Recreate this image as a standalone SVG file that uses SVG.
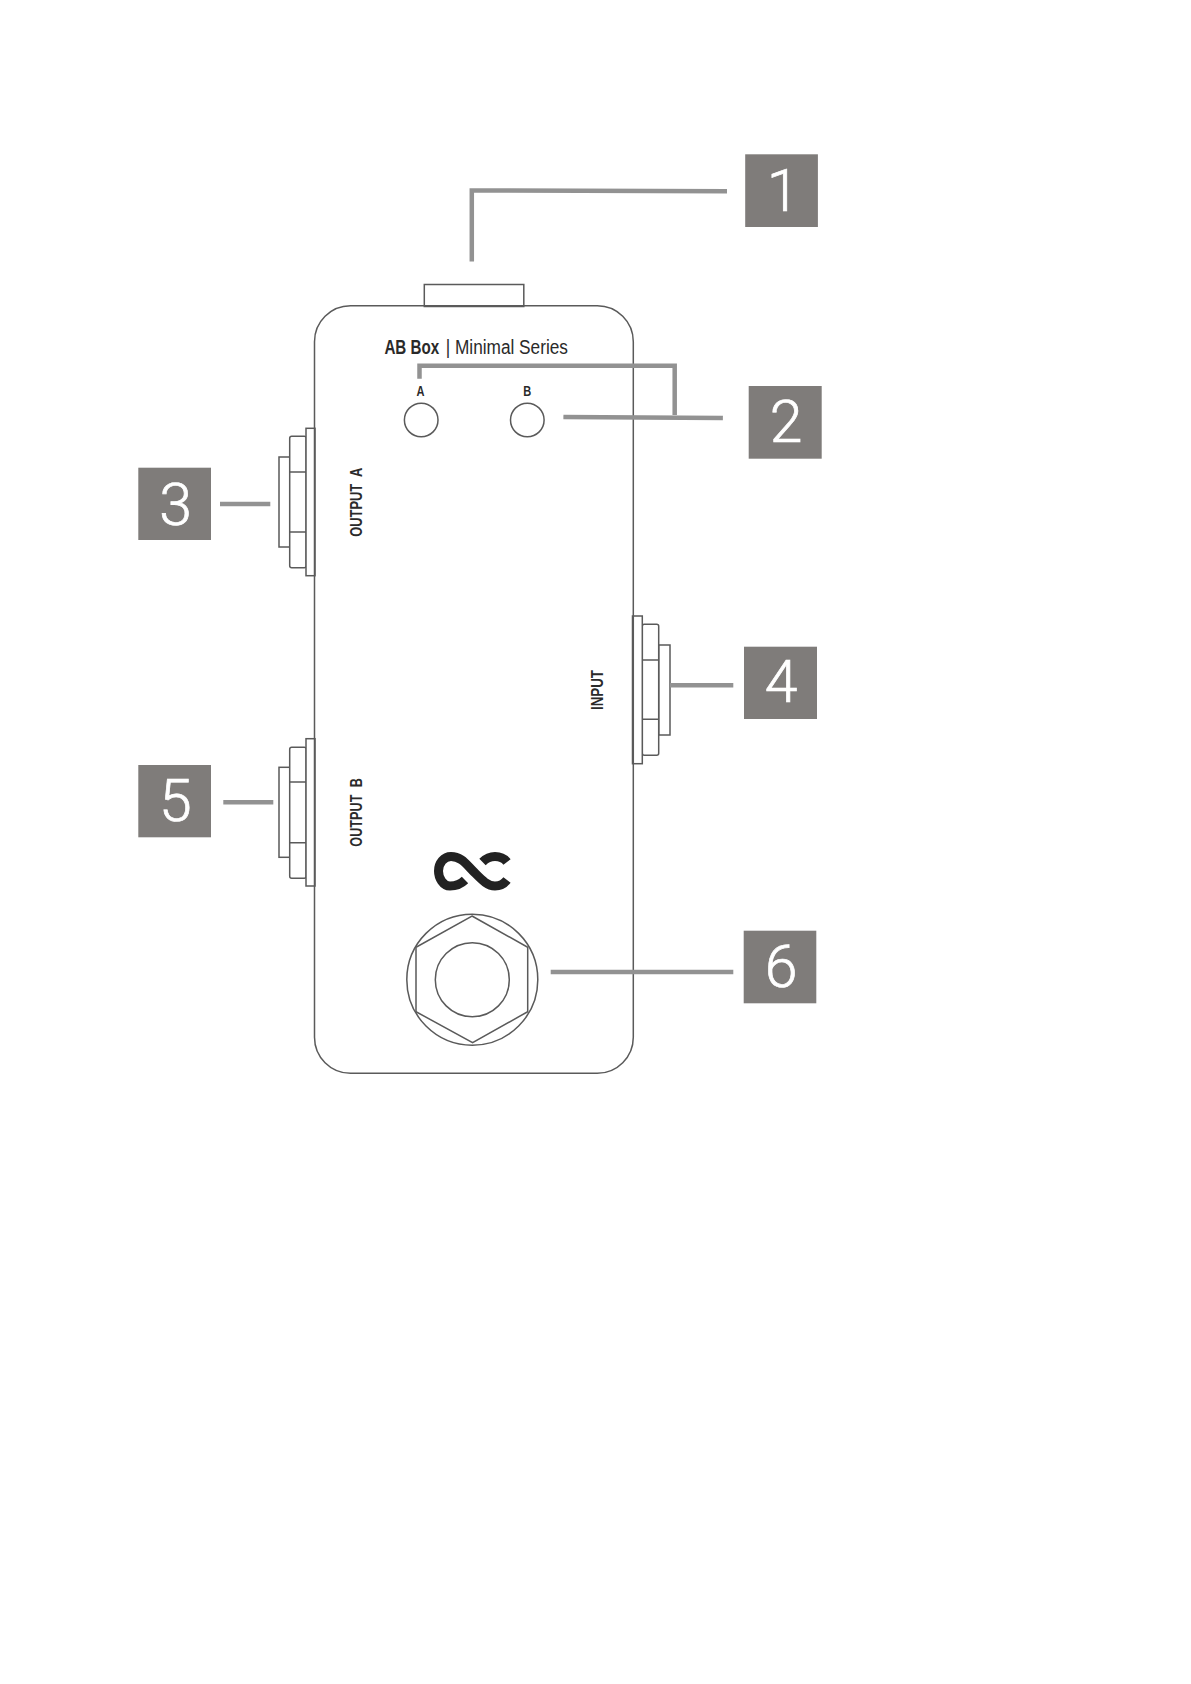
<svg xmlns="http://www.w3.org/2000/svg" width="1191" height="1684" viewBox="0 0 1191 1684">
<style>
.o{fill:#fff;stroke:#5a5a5a;stroke-width:1.5}
.k{fill:none;stroke:#5a5a5a;stroke-width:1.5}
.c{fill:none;stroke:#929292;stroke-width:4.5}
.b{fill:#7f7c7a}
.n{fill:#fff;stroke:#fff;stroke-width:.7;font-family:Roboto,"Liberation Sans",sans-serif;font-weight:300;font-size:59px;text-anchor:middle}
.t{fill:#2a2a2a;font-family:"Liberation Sans",Arial,sans-serif;font-weight:700}
.r{font-weight:400}
</style>
<rect width="1191" height="1684" fill="#fff"/>
<g id="switch"><rect class="o" x="424.3" y="284.5" width="99.5" height="22"/></g>
<g id="jack-output-a">
<rect class="o" x="279" y="457" width="11" height="90"/>
<rect class="o" x="289.7" y="436.3" width="16.5" height="131.4" rx="2"/>
<path class="k" d="M289.7 472H306M289.7 532H306"/>
<rect class="o" x="306" y="428.3" width="9" height="147.4"/>
</g>
<g id="jack-output-b">
<rect class="o" x="279" y="767.3" width="11" height="90"/>
<rect class="o" x="289.7" y="747.3" width="16.5" height="131" rx="2"/>
<path class="k" d="M289.7 782H306M289.7 842.7H306"/>
<rect class="o" x="306" y="738.7" width="9" height="147.3"/>
</g>
<g id="jack-input">
<rect class="o" x="658.7" y="645" width="11.3" height="90"/>
<rect class="o" x="642.3" y="624.3" width="16.4" height="131" rx="2"/>
<path class="k" d="M642.3 660H658.7M642.3 719.3H658.7"/>
<rect class="o" x="632.5" y="616" width="9.8" height="147.7"/>
</g>
<g id="body"><rect class="k" x="314.5" y="305.8" width="318.8" height="767.5" rx="36"/></g>
<g id="title"><text class="t" transform="translate(384.4 354.3) scale(.76 1)" font-size="20">AB Box</text><text class="t r" transform="translate(445.7 354.3) scale(.862 1)" font-size="20">| Minimal Series</text></g>
<g id="led-a"><circle class="k" cx="421.2" cy="420" r="16.8"/><text class="t" x="416.4" y="396" font-size="15" textLength="8" lengthAdjust="spacingAndGlyphs">A</text></g>
<g id="led-b"><circle class="k" cx="527.3" cy="420" r="16.8"/><text class="t" x="523.3" y="396" font-size="15" textLength="8" lengthAdjust="spacingAndGlyphs">B</text></g>
<g id="label-output-a"><text class="t" transform="translate(361.7 536.7) rotate(-90)" font-size="17" word-spacing="5" textLength="69" lengthAdjust="spacingAndGlyphs">OUTPUT A</text></g>
<g id="label-output-b"><text class="t" transform="translate(361.7 846.7) rotate(-90)" font-size="17" word-spacing="5" textLength="68.5" lengthAdjust="spacingAndGlyphs">OUTPUT B</text></g>
<g id="label-input"><text class="t" transform="translate(603 710) rotate(-90)" font-size="17" textLength="40" lengthAdjust="spacingAndGlyphs">INPUT</text></g>
<g id="logo" fill="none" stroke="#222" stroke-width="9">
<path d="M465 880C460 885 455 886 450 886C443 886 438.5 878 438.5 871C438.5 863 444 856.5 451 856.5C461 856.5 466 864 473 871C481 879 487 886 495 886C500 886 504 884 507 880"/>
<path d="M507 862C504 858 500 856.5 495 856.5C490 856.5 486 858.500 482.500 862"/>
</g>
<g id="footswitch">
<circle class="k" cx="472.3" cy="979.7" r="65.5"/>
<path class="k" d="M472 916L527.7 947.3V1011.7L472.6 1042.7L416 1011.7V947.3Z"/>
<circle class="k" cx="472.3" cy="979.7" r="37"/>
</g>
<g id="connectors">
<path class="c" d="M471.8 261.5V190.5L727 191.3"/>
<path class="c" d="M419.5 378.7V365.7H674.7V415"/>
<path class="c" d="M563.4 417L722.9 418"/>
<path class="c" d="M220 504H270.3"/>
<path class="c" d="M223.3 802.3H273.3"/>
<path class="c" d="M670 685.3H733.3"/>
<path class="c" d="M550.7 972H733.3"/>
</g>
<g id="callout-1"><rect class="b" x="745.2" y="154.3" width="72.7" height="72.7"/><text class="n" x="783" y="210.7">1</text></g>
<g id="callout-2"><rect class="b" x="748.7" y="386" width="73" height="72.7"/><text class="n" x="786" y="441.7">2</text></g>
<g id="callout-3"><rect class="b" x="138.3" y="467.7" width="72.7" height="72.3"/><text class="n" x="175.7" y="525">3</text></g>
<g id="callout-4"><rect class="b" x="744" y="646.7" width="73" height="72.3"/><text class="n" x="781" y="702.3">4</text></g>
<g id="callout-5"><rect class="b" x="138.3" y="765" width="72.7" height="72.3"/><text class="n" x="175.3" y="821">5</text></g>
<g id="callout-6"><rect class="b" x="743.7" y="930.7" width="72.6" height="72.6"/><text class="n" x="781" y="987.3">6</text></g>
</svg>
